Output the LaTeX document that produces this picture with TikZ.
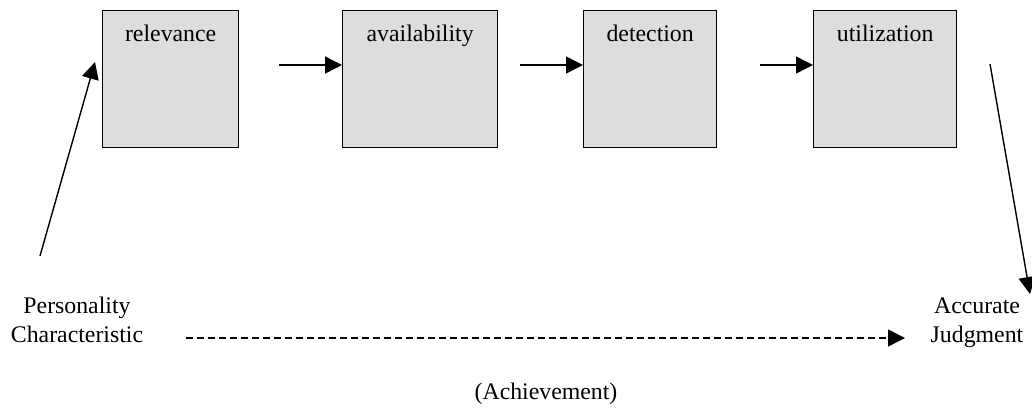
\documentclass[tikz,border=0pt]{standalone}
\usepackage{fontspec}
\setmainfont{Liberation Serif}
\usetikzlibrary{arrows.meta}
\begin{document}
\begin{tikzpicture}[x=1pt,y=-1pt,
  box/.style={draw=black,line width=1.3pt,fill={rgb,255:red,221;green,221;blue,221},anchor=north west,inner sep=0pt,minimum height=137pt},
  lbl/.style={anchor=base,inner sep=0pt,font=\fontsize{23.8}{29}\selectfont},
  txt/.style={align=center,inner sep=0pt,anchor=base,font=\fontsize{23.8}{29}\selectfont},
  arr/.style={line width=1.4pt,-{Triangle[length=17pt,width=17pt]}},
  dasharr/.style={line width=1.4pt,dash pattern=on 7pt off 4pt,-{Triangle[length=17pt,width=17pt]}}]
\useasboundingbox (0,0) rectangle (1032,417);
% boxes
\node[box,minimum width=136pt] (rel) at (102,10) {};
\node[box,minimum width=155pt] (ava) at (342,10) {};
\node[box,minimum width=133pt] (det) at (583,10) {};
\node[box,minimum width=143pt] (uti) at (813,10) {};
\node[lbl] (trel) at (rel.north |- 0,42) {relevance};
\node[lbl] (tava) at (ava.north |- 0,42) {availability};
\node[lbl] (tdet) at (det.north |- 0,42) {detection};
\node[lbl] (tuti) at (uti.north |- 0,42) {utilization};
% horizontal arrows
\coordinate (a1) at (279,65);
\coordinate (a2) at (520,65);
\coordinate (a3) at (760,65);
\draw[arr] (a1) -- (a1 -| ava.west);
\draw[arr] (a2) -- (a2 -| det.west);
\draw[arr] (a3) -- (a3 -| uti.west);
% texts
\node[txt] (pc) at (77,342) {Personality\\Characteristic};
\node[txt] (aj) at (977,342) {Accurate\\Judgment};
\node[txt] (ach) at (546,399) {(Achievement)};
% diagonal arrows
\coordinate (l0) at (40,256);
\coordinate (l1) at (95,62);
\draw[arr] (l0) -- (l1);
\coordinate (r0) at (990,64);
\coordinate (r1) at (1030,294);
\draw[arr] (r0) -- (r1);
% dashed arrow
\coordinate (d0) at (186,338);
\coordinate (d1) at (905,338);
\draw[dasharr] (d0) -- (d1);
\end{tikzpicture}
\end{document}
